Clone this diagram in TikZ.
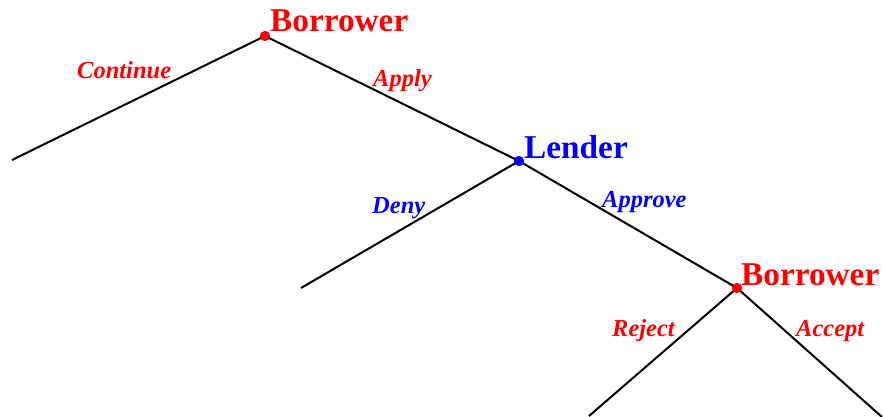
\documentclass[tikz,border=0pt]{standalone}
\usepackage{fontspec}
\setmainfont{Liberation Serif}
\begin{document}
\begin{tikzpicture}[x=1pt,y=-1pt,
  edge/.style={line width=2pt,black},
  dotnode/.style={circle,fill=#1,inner sep=0pt,minimum size=10pt},
  player/.style={text=#1,font=\bfseries\fontsize{33.3}{35}\selectfont,anchor=base west,inner sep=0pt},
  action/.style={text=#1,font=\bfseries\itshape\fontsize{24.5}{26}\selectfont,anchor=base west,inner sep=0pt}]
\useasboundingbox (0,0) rectangle (883,417);
\node[dotnode=red] (b1) at (265,36) {};
\node[dotnode=blue] (l) at (519,161) {};
\node[dotnode=red] (b2) at (737,288) {};
\coordinate (cont) at (12,160);
\coordinate (deny) at (301,288);
\coordinate (rej) at (589,416);
\coordinate (acc) at (882,417);
\draw[edge] (b1.center) -- (cont);
\draw[edge] (b1.center) -- (l.center);
\draw[edge] (l.center) -- (deny);
\draw[edge] (l.center) -- (b2.center);
\draw[edge] (b2.center) -- (rej);
\draw[edge] (b2.center) -- (acc);
\node[dotnode=red] at (b1) {};
\node[dotnode=blue] at (l) {};
\node[dotnode=red] at (b2) {};
\node[player=red] (tb1) at (270,32) {Borrower};
\node[player=blue] (tl) at (524,158) {Lender};
\node[player=red] (tb2) at (741,285) {Borrower};
\node[action=red] (tcont) at (77,79) {Continue};
\node[action=red] (tapp) at (373,87) {Apply};
\node[action=blue] (tdeny) at (372,213) {Deny};
\node[action=blue] (tappr) at (602,207) {Approve};
\node[action=red] (trej) at (612,336) {Reject};
\node[action=red] (tacc) at (796,336) {Accept};
\end{tikzpicture}
\end{document}
